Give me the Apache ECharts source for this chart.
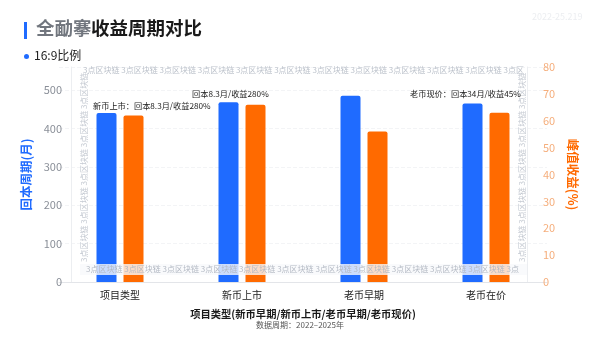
<!DOCTYPE html>
<html>
<head>
<meta charset="utf-8">
<script src="https://cdn.jsdelivr.net/npm/echarts@6/dist/echarts.min.js"></script>
<style>
html,body{margin:0;padding:0;background:#fff;}
#c{width:600px;height:337px;}
</style>
</head>
<body>
<div id="c"></div>
<script>
// ---- data ----
var categories = ['项目类型', '新币上市', '老币早期', '老币在价'];
var paybackMonths = [440, 468, 485, 465];     // 回本周期(月) - left axis
var peakReturn = [62, 66, 56, 63];            // 峰值收益(%) - right axis
var leftTicks = {min: 0, max: 560, interval: 100};
var rightTicks = {min: 0, max: 80, interval: 10};
var annotations = [
  {text: '新币上市：回本8.3月/收益280%', x: 93, y: 101.5},
  {text: '回本8.3月/收益280%', x: 192, y: 89.5},
  {text: '老币现价：回本34月/收益45%', x: 410, y: 89.5}
];
var watermarkWord = '3点区块链';

var FONT = '"Noto Sans CJK SC", "Noto Sans", sans-serif';
var BLUE = '#1f6bff';
var ORANGE = '#ff6a00';

var chart = echarts.init(document.getElementById('c'));

function repeatWord(n, sep, tail) {
  var a = [];
  for (var i = 0; i < n; i++) a.push(watermarkWord);
  return a.join(sep) + (tail ? sep + tail : '');
}
function txt(o, text, size, color, weight) {
  o.type = 'text';
  o.style = Object.assign({text: text, fill: color, fontSize: size, fontFamily: FONT,
    fontWeight: weight || 'normal'}, o.style || {});
  return o;
}

var graphics = [
  {type: 'rect', left: 24, top: 22, shape: {width: 3, height: 17}, style: {fill: BLUE}},
  txt({left: 36, top: 19}, '全勔搴', 18.5, '#71767e', 'bold'),
  txt({left: 91, top: 19}, '收益周期对比', 18.5, '#1a1a1a', 'bold'),
  {type: 'circle', shape: {cx: 26.5, cy: 56.5, r: 2.5}, style: {fill: BLUE}},
  txt({left: 34, top: 49}, '16:9比例', 12, '#222'),
  txt({left: 532, top: 12}, '2022-25.219', 9, '#eceef1'),
  // watermark rows
  txt({left: 83, top: 66, z: 1}, repeatWord(11, ' ', '3点区'), 8, '#bcc2cb'),
  {type: 'rect', left: 80, top: 264, z: 20, shape: {width: 447, height: 11}, style: {fill: 'rgba(248,249,251,0.8)'}},
  txt({left: 86, top: 265, z: 21}, repeatWord(11, ' ', '3点'), 8, '#b4bac4'),
  txt({x: 80, y: 262, rotation: Math.PI / 2, z: 1}, repeatWord(5, ' '), 8, '#c6cbd3'),
  txt({x: 518, y: 262, rotation: Math.PI / 2, z: 1}, repeatWord(5, ' '), 8, '#c6cbd3'),
  txt({left: 519, top: 310, style: {shadowColor: 'rgba(0,0,0,0.25)', shadowBlur: 3}}, '豆包AI生成', 14, '#ffffff', 'bold'),
  txt({left: 'center', top: 321}, '数据周期：2022–2025年', 8, '#555')
];
annotations.forEach(function (a) {
  graphics.push(txt({left: a.x, top: a.y, z: 30}, a.text, 8.2, '#222'));
});

chart.setOption({
  backgroundColor: '#ffffff',
  animation: false,
  textStyle: {fontFamily: FONT},
  grid: {left: 59, right: 53, top: 67, bottom: 55},
  xAxis: {
    type: 'category',
    data: categories,
    axisLine: {lineStyle: {color: '#e3e5e9'}},
    axisTick: {show: false},
    axisLabel: {color: '#222', fontSize: 10, margin: 8},
    name: '项目类型(新币早期/新币上市/老币早期/老币现价)',
    nameLocation: 'middle',
    nameGap: 27,
    nameTextStyle: {color: '#1a1a1a', fontSize: 10.3, fontWeight: 'bold'}
  },
  yAxis: [
    {
      type: 'value',
      min: leftTicks.min, max: leftTicks.max, interval: leftTicks.interval,
      offset: -12,
      axisLine: {show: true, lineStyle: {color: '#eceef1'}},
      axisTick: {show: false},
      axisLabel: {color: '#8a8f98', fontSize: 11, margin: 9, showMaxLabel: false},
      splitLine: {show: true, lineStyle: {color: '#f3f4f6', type: 'dashed'}},
      name: '回本周期(月)',
      nameLocation: 'middle',
      nameGap: 29,
      nameTextStyle: {color: BLUE, fontSize: 12.5, fontWeight: 'bold'}
    },
    {
      type: 'value',
      min: rightTicks.min, max: rightTicks.max, interval: rightTicks.interval,
      offset: -20,
      axisLine: {show: true, lineStyle: {color: '#eceef1'}},
      axisTick: {show: false},
      axisLabel: {color: '#f5ae7c', fontSize: 11, margin: 16},
      splitLine: {show: false},
      name: '峰值收益(%)',
      nameLocation: 'middle',
      nameGap: 36,
      nameRotate: -90,
      nameTextStyle: {color: ORANGE, fontSize: 12.5, fontWeight: 'bold'}
    }
  ],
  series: [
    {
      name: '回本周期',
      type: 'bar',
      yAxisIndex: 0,
      data: paybackMonths,
      barWidth: 20,
      barGap: '35%',
      itemStyle: {color: BLUE, borderRadius: [2, 2, 0, 0]}
    },
    {
      name: '峰值收益',
      type: 'bar',
      yAxisIndex: 1,
      data: peakReturn,
      barWidth: 20,
      barGap: '35%',
      itemStyle: {color: ORANGE, borderRadius: [2, 2, 0, 0]}
    }
  ],
  graphic: graphics
});
</script>
</body>
</html>
